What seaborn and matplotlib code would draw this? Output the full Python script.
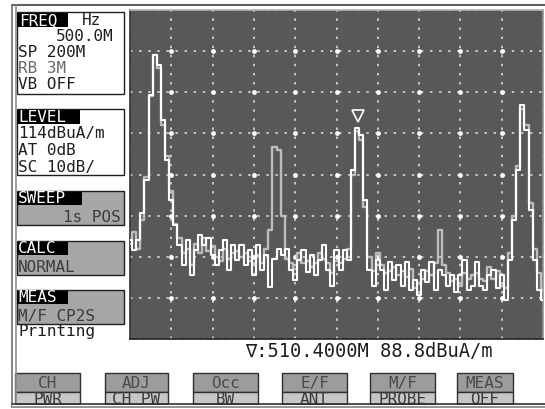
import numpy as np
import pandas as pd
import seaborn as sns
import matplotlib.pyplot as plt
from matplotlib.patches import Rectangle

# ---------------- trace data (dBuA/m), sweep 400 - 600 MHz ----------------
white_trace = [
    58.0, 55.6, 58.0, 64.6, 72.6, 93.3, 103.0, 100.6, 87.2, 77.5,
    67.8, 61.7, 56.8, 52.0, 58.0, 49.5, 55.6, 59.3, 56.8, 58.5,
    54.4, 52.0, 55.6, 58.0, 50.7, 56.8, 53.2, 56.8, 52.0, 55.6,
    49.5, 56.8, 50.7, 54.4, 46.6, 53.5, 56.0, 54.4, 56.0, 50.7,
    48.3, 53.2, 55.6, 50.3, 54.4, 49.5, 53.2, 56.8, 50.7, 47.0,
    55.6, 50.7, 55.6, 53.2, 75.0, 85.3, 83.6, 67.8, 50.7, 47.0,
    53.2, 50.7, 45.9, 52.7, 48.3, 52.0, 47.0, 52.7, 45.9, 48.3,
    44.7, 50.7, 47.8, 52.7, 45.9, 50.7, 49.5, 47.0, 49.5, 45.4,
    49.5, 53.2, 45.9, 47.0, 52.7, 47.0, 45.9, 49.5, 50.7, 46.4,
    49.5, 43.4, 53.2, 62.9, 75.0, 90.9, 84.8, 65.3, 53.2, 45.9,
    43.4]

gray_trace = [
    57.0, 60.0, 56.0, 63.0, 73.5, 93.0, 103.0, 100.0, 86.0, 78.5,
    70.0, 62.0, 58.5, 55.0, 56.0, 52.0, 57.0, 55.0, 58.5, 55.5,
    56.5, 54.0, 53.0, 56.0, 53.5, 55.0, 55.5, 54.0, 55.0, 53.0,
    52.5, 54.5, 52.5, 56.0, 60.5, 80.7, 80.0, 64.0, 53.5, 52.5,
    51.0, 55.0, 52.5, 53.0, 51.5, 52.5, 55.0, 53.5, 52.5, 50.0,
    53.0, 52.5, 53.5, 56.0, 74.0, 84.5, 82.5, 66.0, 54.0, 50.5,
    55.0, 52.0, 50.0, 50.5, 51.5, 49.5, 50.5, 49.0, 51.0, 46.5,
    47.5, 48.5, 50.5, 49.5, 52.5, 60.5, 52.0, 50.0, 48.0, 48.5,
    47.0, 50.0, 48.5, 49.5, 50.0, 48.5, 48.0, 51.5, 48.5, 50.5,
    47.0, 46.5, 55.0, 64.0, 76.0, 90.0, 86.0, 67.0, 56.0, 50.0,
    46.0]

f_start, f_stop = 400, 600
ref_level, db_per_div = 114, 10
marker_freq, marker_level = 510.4, 88.2

# panel / softkey labels
key_top = ["CH", "ADJ", "Occ", "E/F", "M/F", "MEAS"]
key_bottom = ["PWR", "CH PW", "BW", "ANT", "PROBE", "OFF"]

df = pd.DataFrame({
    "freq": np.linspace(f_start, f_stop, len(white_trace)),
    "white": white_trace,
    "gray": gray_trace,
})

sns.set_theme(style="dark")
plt.rcParams['font.family'] = ['DejaVu Sans Mono', 'DejaVu Sans']

fig = plt.figure(figsize=(5.45, 4.09), dpi=100)
fig.patch.set_facecolor("white")

# background "screen" axes in pixel units
bg = fig.add_axes([0, 0, 1, 1])
bg.set_xlim(0, 545)
bg.set_ylim(409, 0)
bg.axis("off")


def box(x0, y0, x1, y1, fc, ec="#202020", lw=1.0, z=1):
    bg.add_patch(Rectangle((x0, y0), x1 - x0, y1 - y0, facecolor=fc,
                           edgecolor=ec, lw=lw, zorder=z))


def txt(x, y, s, color="#1e1e1e", ha="left", size=11.5, z=5):
    bg.text(x, y, s, color=color, ha=ha, va="baseline", fontsize=size,
            zorder=z)


# outer frame
bg.plot([12, 545], [5, 5], color="#606060", lw=1.5)
bg.plot([12, 12], [5, 407], color="#707070", lw=1.2)
bg.plot([16, 16], [5, 407], color="#909090", lw=1.2)

# FREQ box
box(17, 12, 124, 94, "white")
box(17, 13, 68, 27, "black", ec="none", z=2)
txt(19, 25, "FREQ", color="white")
txt(82, 25, "Hz")
txt(114, 41, "500.0M", ha="right")
txt(18, 57, "SP 200M")
txt(18, 73, "RB 3M", color="#6a6a6a")
txt(18, 89, "VB OFF")

# LEVEL box
box(17, 109, 124, 175, "white")
box(17, 110, 80, 124, "black", ec="none", z=2)
txt(18, 122, "LEVEL", color="white")
txt(18, 138, "114dBuA/m")
txt(18, 155, "AT 0dB")
txt(18, 172, "SC 10dB/")

# SWEEP / CALC / MEAS boxes
for y0, head, hw, line, ha, lx in [(191, "SWEEP", 82, "1s POS", "right", 121),
                                   (241, "CALC", 68, "NORMAL", "left", 18),
                                   (290, "MEAS", 68, "M/F CP2S", "left", 18)]:
    box(17, y0, 124, y0 + 34, "#a6a6a6")
    box(17, y0 + 1, hw, y0 + 14, "black", ec="none", z=2)
    txt(18, y0 + 12, head, color="white")
    txt(lx, y0 + 31, line, color="#3c3c3c", ha=ha)
txt(18, 336, "Printing")

# marker readout
txt(245, 357, "\u2207:510.4000M 88.8dBuA/m", size=13.5)

# softkeys
key_x = [(15, 80), (105, 168), (193, 258), (282, 347), (370, 435), (457, 513)]
for (x0, x1), top, bot in zip(key_x, key_top, key_bottom):
    box(x0, 373, x1, 392, "#9c9c9c", ec="#303030")
    box(x0, 392, x1, 404, "#c6c6c6", ec="#303030")
    txt((x0 + x1) / 2, 388, top, color="#4a4a4a", ha="center")
    txt((x0 + x1) / 2, 404, bot, color="#3a3a3a", ha="center")
box(12, 404.5, 545, 409, "white", ec="none", z=8)
bg.plot([12, 545], [404, 404], color="#303030", lw=1.2, zorder=9)
bg.plot([12, 545], [407, 407], color="#808080", lw=1.2, zorder=9)

# ---------------- spectrum display ----------------
ax = fig.add_axes([130 / 545, 1 - 339 / 409, 413 / 545, 329 / 409])
ax.set_facecolor("#58585a")
xt = np.arange(f_start, f_stop + 1, 20)
yt = np.arange(ref_level - 8 * db_per_div, ref_level + 1, db_per_div)
ax.set_xlim(f_start, f_stop)
ax.set_ylim(yt[0], yt[-1])
ax.set_xticks(xt)
ax.set_yticks(yt)
ax.tick_params(length=0, labelbottom=False, labelleft=False)
ax.grid(True, color="#e4e4e4", lw=1.1, linestyle=(0, (1.6, 4.35)))
gx, gy = np.meshgrid(xt[1:-1], yt[1:-1])
ax.scatter(gx.ravel(), gy.ravel(), s=12, color="white", zorder=1.5, linewidths=0)

sns.lineplot(data=df, x="freq", y="gray", ax=ax, color="#bcbcbc", lw=1.7,
             drawstyle="steps-mid", estimator=None, sort=False, zorder=3)
sns.lineplot(data=df, x="freq", y="white", ax=ax, color="white", lw=1.5,
             drawstyle="steps-mid", estimator=None, sort=False, zorder=4)
ax.plot([marker_freq], [marker_level], marker="v", ms=9, mfc="none",
        mec="white", mew=1.2, zorder=5)
ax.set_xlabel("")
ax.set_ylabel("")
for side, c in [("top", "#b0b0b0"), ("bottom", "#202020"),
                ("left", "#303030"), ("right", "#909090")]:
    ax.spines[side].set_visible(True)
    ax.spines[side].set_color(c)
    ax.spines[side].set_linewidth(1.2)

fig.savefig("out.png", dpi=100)
